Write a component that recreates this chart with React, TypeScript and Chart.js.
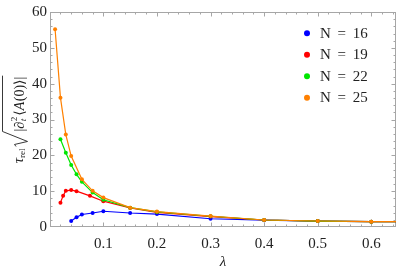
import React, { useEffect, useRef } from 'react';
import { Chart, registerables } from 'chart.js';

Chart.register(...registerables);

// ---- data ----
const lambdaN16 = [0.04, 0.05, 0.06, 0.08, 0.1, 0.15, 0.2, 0.3, 0.4, 0.5, 0.6, 0.7];
const valueN16 = [1.7, 2.7, 3.5, 3.9, 4.4, 3.9, 3.6, 2.3, 1.9, 1.65, 1.5, 1.5];

const lambdaN19 = [0.02, 0.025, 0.03, 0.04, 0.05, 0.075, 0.1, 0.15, 0.2, 0.3, 0.4, 0.5, 0.6, 0.7];
const valueN19 = [6.8, 8.7, 10.1, 10.3, 10.0, 8.7, 7.2, 5.3, 4.1, 2.9, 1.95, 1.65, 1.5, 1.5];

const lambdaN22 = [0.02, 0.03, 0.04, 0.05, 0.06, 0.08, 0.1, 0.15, 0.2, 0.3, 0.4, 0.5, 0.6, 0.7];
const valueN22 = [24.5, 20.7, 17.3, 14.7, 12.6, 9.6, 7.6, 5.4, 4.2, 3.0, 1.95, 1.65, 1.5, 1.5];

const lambdaN25 = [0.01, 0.02, 0.03, 0.04, 0.06, 0.08, 0.1, 0.15, 0.2, 0.3, 0.4, 0.5, 0.6, 0.7];
const valueN25 = [55.2, 36.1, 25.8, 19.8, 13.3, 10.1, 8.2, 5.4, 4.3, 3.05, 1.95, 1.67, 1.5, 1.5];

const seriesLabels = ['N = 16', 'N = 19', 'N = 22', 'N = 25'];
const seriesColors = ['#0000ff', '#ff0000', '#00e600', '#ff8000'];

const xTickValues = [0.1, 0.2, 0.3, 0.4, 0.5, 0.6];
const yTickValues = [0, 10, 20, 30, 40, 50, 60];
const xMinorStep = 0.02;
const yMinorStep = 2;

const SERIF = "'Liberation Serif', 'DejaVu Serif', serif";

const framePlugin = {
  id: 'mmaFrame',
  beforeDatasetsDraw(chart: any) {
    const { ctx, chartArea } = chart;
    const { left, right, top, bottom } = chartArea;
    const xs = chart.scales.x;
    const ys = chart.scales.y;
    ctx.save();
    ctx.strokeStyle = '#a6a6a6';
    ctx.lineWidth = 1;
    ctx.strokeRect(left + 0.5, top + 0.5, right - left - 1, bottom - top - 1);
    ctx.beginPath();
    for (let v = xMinorStep; v < xs.max; v += xMinorStep) {
      const r = Math.round(v * 100) / 100;
      const major = xTickValues.some((t) => Math.abs(t - r) < 1e-6);
      const len = major ? 4.5 : 2.5;
      const px = Math.round(xs.getPixelForValue(r)) + 0.5;
      ctx.moveTo(px, bottom);
      ctx.lineTo(px, bottom - len);
      ctx.moveTo(px, top);
      ctx.lineTo(px, top + len);
    }
    for (let v = yMinorStep; v < ys.max; v += yMinorStep) {
      const major = yTickValues.includes(v);
      const len = major ? 4.5 : 2.5;
      const py = Math.round(ys.getPixelForValue(v)) + 0.5;
      ctx.moveTo(left, py);
      ctx.lineTo(left + len, py);
      ctx.moveTo(right, py);
      ctx.lineTo(right - len, py);
    }
    ctx.stroke();
    ctx.restore();
  },
  afterDraw(chart: any) {
    const { ctx, chartArea } = chart;
    ctx.save();
    ctx.fillStyle = '#222';
    ctx.font = `italic 15px ${SERIF}`;
    ctx.textAlign = 'center';
    ctx.textBaseline = 'middle';
    ctx.fillText('\u03bb', (chartArea.left + chartArea.right) / 2, 262.5);

    // y title (rotated)
    const cy = (chartArea.top + chartArea.bottom) / 2;
    ctx.save();
    ctx.rotate(-Math.PI / 2);
    ctx.textAlign = 'left';
    ctx.textBaseline = 'alphabetic';
    const fMain = `14px ${SERIF}`;
    const fIt = `italic 14px ${SERIF}`;
    const fTau = `italic 15px ${SERIF}`;
    const fSmall = `9px ${SERIF}`;
    const fSmallIt = `italic 9px ${SERIF}`;
    const base = 23.5;
    const w = (t: string, f: string) => {
      ctx.font = f;
      return ctx.measureText(t).width;
    };
    const tauW = w('\u03c4', fTau);
    const relW = w('rel', fSmall);
    const radW = 15;
    const pieces: Array<[string, string, number]> = [
      ['|', fMain, 0],
      ['\u2202', fIt, 0.5],
    ];
    const supW = Math.max(w('2', fSmall), w('t', fSmallIt)) + 1;
    const rest: Array<[string, string, number]> = [
      ['\u27e8', fMain, 0],
      ['A', fIt, 0.5],
      ['(0)', fMain, 0],
      ['\u27e9', fMain, 0],
      ['|', fMain, 0],
    ];
    let contentW = supW;
    for (const p of pieces) contentW += w(p[0], p[1]) + p[2];
    for (const p of rest) contentW += w(p[0], p[1]) + p[2];
    const total = tauW + relW + 2 + radW + contentW + 1;
    let u = -(cy + total / 2);
    ctx.font = fTau;
    ctx.fillText('\u03c4', u, base - 1);
    u += tauW;
    ctx.font = fSmall;
    ctx.fillText('rel', u, base + 1);
    u += relW + 2;
    ctx.strokeStyle = '#222';
    ctx.lineWidth = 0.9;
    ctx.beginPath();
    ctx.moveTo(u, 16);
    ctx.lineTo(u + 2, 14.5);
    ctx.lineTo(u + 5, 27.5);
    ctx.lineTo(u + radW, 2.5);
    const uEnd = u + radW + contentW + 1;
    ctx.lineTo(uEnd, 2.5);
    ctx.stroke();
    u += radW;
    for (const p of pieces) {
      ctx.font = p[1];
      ctx.fillText(p[0], u, base);
      u += w(p[0], p[1]) + p[2];
    }
    ctx.font = fSmall;
    ctx.fillText('2', u, base - 6.5);
    ctx.font = fSmallIt;
    ctx.fillText('t', u, base + 2);
    u += supW;
    for (const p of rest) {
      ctx.font = p[1];
      ctx.fillText(p[0], u, base);
      u += w(p[0], p[1]) + p[2];
    }
    ctx.restore();

    // legend
    const legendX = 307;
    const legendY = [33.3, 54.8, 76.3, 97.8];
    ctx.font = `15px ${SERIF}`;
    ctx.textAlign = 'left';
    ctx.textBaseline = 'middle';
    try {
      (ctx as any).wordSpacing = '3px';
    } catch (e) {}
    seriesLabels.forEach((label, i) => {
      ctx.fillStyle = seriesColors[i];
      ctx.beginPath();
      ctx.arc(legendX, legendY[i], 3, 0, Math.PI * 2);
      ctx.fill();
      ctx.fillStyle = '#222';
      ctx.fillText(label, legendX + 13, legendY[i] + 0.5);
    });
    ctx.restore();
  },
};

export default function App() {
  const canvasRef = useRef<HTMLCanvasElement | null>(null);

  useEffect(() => {
    document.body.style.margin = '0';
    const canvas = canvasRef.current;
    if (!canvas) return;
    const lambdas = [lambdaN16, lambdaN19, lambdaN22, lambdaN25];
    const values = [valueN16, valueN19, valueN22, valueN25];
    const datasets = seriesLabels.map((label, i) => ({
      label,
      data: lambdas[i].map((x, j) => ({ x, y: values[i][j] })),
      borderColor: seriesColors[i],
      backgroundColor: seriesColors[i],
      borderWidth: 1.2,
      pointRadius: 2,
      pointBorderWidth: 0,
      pointHoverRadius: 2,
      tension: 0,
      order: 3 - i,
    }));
    const chart = new Chart(canvas, {
      type: 'line',
      data: { datasets },
      plugins: [framePlugin],
      options: {
        animation: false,
        responsive: false,
        maintainAspectRatio: false,
        layout: { padding: { left: 0, right: 3, top: 12, bottom: 0 } },
        plugins: { legend: { display: false }, tooltip: { enabled: false } },
        scales: {
          x: {
            type: 'linear',
            min: 0.0005,
            max: 0.646,
            grid: { display: false, drawTicks: false },
            border: { display: false },
            afterBuildTicks: (s: any) => {
              s.ticks = xTickValues.map((v) => ({ value: v }));
            },
            afterFit: (s: any) => {
              s.height = 49;
            },
            ticks: {
              padding: 8,
              color: '#222',
              font: { family: SERIF, size: 15 },
              maxRotation: 0,
              callback: (v: any) => Number(v).toFixed(1),
            },
          },
          y: {
            type: 'linear',
            min: 0,
            max: 60,
            grid: { display: false, drawTicks: false },
            border: { display: false },
            afterBuildTicks: (s: any) => {
              s.ticks = yTickValues.map((v) => ({ value: v }));
            },
            afterFit: (s: any) => {
              s.width = 50;
            },
            ticks: {
              padding: 3,
              color: '#222',
              font: { family: SERIF, size: 15 },
              callback: (v: any) => String(v),
            },
          },
        },
      },
    });
    return () => chart.destroy();
  }, []);

  return (
    <div style={{ position: 'fixed', left: 0, top: 0, width: 399, height: 276, background: '#fff' }}>
      <canvas ref={canvasRef} width={399} height={276} style={{ width: 399, height: 276, display: 'block' }} />
    </div>
  );
}
